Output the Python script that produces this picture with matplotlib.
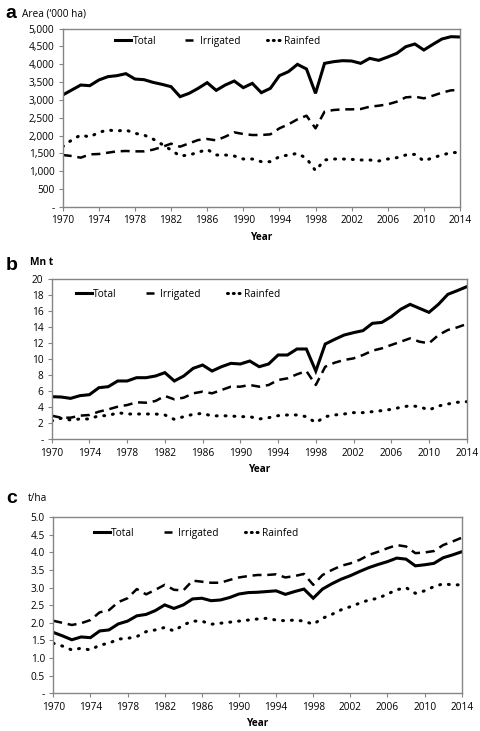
import matplotlib.pyplot as plt
from matplotlib.lines import Line2D
from matplotlib.ticker import FuncFormatter

years = list(range(1970, 2015))

# panel a - area ('000 ha)
area_total = [3137, 3277, 3417, 3399, 3557, 3651, 3679, 3735, 3585, 3567,
              3492, 3436, 3371, 3091, 3184, 3324, 3483, 3268, 3417, 3529,
              3343, 3464, 3203, 3324, 3679, 3791, 3996, 3866, 3184, 4024,
              4071, 4099, 4090, 4024, 4164, 4108, 4202, 4304, 4491, 4566,
              4398, 4556, 4706, 4771, 4762]
area_irrigated = [1457, 1429, 1382, 1475, 1485, 1522, 1559, 1569, 1559, 1559,
                  1606, 1681, 1774, 1690, 1783, 1877, 1905, 1867, 1970, 2092,
                  2045, 2017, 2017, 2036, 2204, 2316, 2456, 2558, 2204, 2670,
                  2717, 2736, 2736, 2745, 2810, 2838, 2876, 2950, 3072, 3091,
                  3044, 3119, 3203, 3268, 3277]
area_rainfed = [1690, 1877, 2017, 1961, 2092, 2157, 2129, 2157, 2064, 2017,
                1905, 1755, 1597, 1429, 1457, 1531, 1615, 1457, 1457, 1429,
                1345, 1345, 1270, 1270, 1410, 1457, 1503, 1363, 1018, 1317,
                1345, 1345, 1335, 1317, 1317, 1289, 1345, 1382, 1457, 1475,
                1289, 1382, 1457, 1522, 1531]

# panel b - production (Mn t)
prod_total = [5.32, 5.28, 5.11, 5.45, 5.57, 6.44, 6.57, 7.28, 7.28, 7.69,
              7.69, 7.90, 8.32, 7.28, 7.90, 8.86, 9.27, 8.52, 9.06, 9.48,
              9.40, 9.77, 9.06, 9.40, 10.52, 10.52, 11.27, 11.27, 8.52, 11.89,
              12.47, 13.01, 13.31, 13.56, 14.47, 14.59, 15.30, 16.22, 16.84, 16.34,
              15.84, 16.84, 18.09, 18.55, 19.04]
prod_irrigated = [2.95, 2.70, 2.70, 2.95, 3.04, 3.45, 3.74, 4.07, 4.28, 4.62,
                  4.57, 4.78, 5.41, 4.99, 5.20, 5.74, 5.95, 5.74, 6.15, 6.57,
                  6.57, 6.78, 6.57, 6.78, 7.40, 7.61, 8.11, 8.52, 6.78, 9.06,
                  9.56, 9.90, 10.10, 10.52, 11.06, 11.35, 11.77, 12.18, 12.60, 12.18,
                  11.98, 13.01, 13.64, 13.97, 14.39]
prod_rainfed = [2.29, 2.62, 2.41, 2.54, 2.54, 2.95, 2.95, 3.33, 3.16, 3.16,
                3.16, 3.16, 3.04, 2.49, 2.83, 3.12, 3.24, 2.91, 2.95, 2.91,
                2.83, 2.83, 2.54, 2.70, 2.95, 3.04, 3.04, 2.83, 2.08, 2.83,
                3.04, 3.16, 3.33, 3.33, 3.45, 3.58, 3.74, 3.99, 4.20, 4.07,
                3.66, 4.16, 4.41, 4.62, 4.70]

# panel c - yield (t/ha)
yield_total = [1.73, 1.63, 1.52, 1.60, 1.58, 1.77, 1.80, 1.97, 2.05, 2.20,
               2.24, 2.35, 2.51, 2.41, 2.51, 2.68, 2.70, 2.63, 2.65, 2.72,
               2.82, 2.86, 2.87, 2.89, 2.91, 2.81, 2.89, 2.96, 2.70, 2.96,
               3.11, 3.24, 3.34, 3.46, 3.57, 3.66, 3.74, 3.84, 3.81, 3.62,
               3.65, 3.69, 3.85, 3.93, 4.02]
yield_irrigated = [2.06, 2.00, 1.94, 1.99, 2.08, 2.30, 2.36, 2.59, 2.70, 2.96,
                   2.81, 2.94, 3.08, 2.94, 2.92, 3.20, 3.17, 3.14, 3.14, 3.22,
                   3.29, 3.33, 3.36, 3.36, 3.38, 3.29, 3.33, 3.39, 3.08, 3.36,
                   3.50, 3.62, 3.69, 3.79, 3.93, 4.02, 4.12, 4.21, 4.17, 3.98,
                   4.00, 4.04, 4.21, 4.31, 4.42]
yield_rainfed = [1.42, 1.34, 1.23, 1.28, 1.23, 1.37, 1.42, 1.54, 1.56, 1.61,
                 1.75, 1.80, 1.87, 1.77, 1.94, 2.05, 2.05, 1.96, 1.99, 2.02,
                 2.05, 2.08, 2.11, 2.13, 2.08, 2.06, 2.08, 2.05, 1.96, 2.13,
                 2.24, 2.37, 2.46, 2.56, 2.65, 2.70, 2.82, 2.94, 3.00, 2.84,
                 2.91, 3.03, 3.11, 3.08, 3.08]

series_names = ['Total', 'Irrigated', 'Rainfed']

plt.rcParams['font.family'] = ['Open Sans', 'DejaVu Sans']
GRAY = '#858585'


def draw_panel(ax, total, irrigated, rainfed, ymax, ystep, fmt, legend_x, legend_y):
    ax.plot(years, total, color='black', lw=2.2, solid_joinstyle='miter')
    ax.plot(years, irrigated, color='black', lw=1.8, dashes=(3.6, 2.3))
    # dotted line: tiny dashes with round caps give round dots
    ax.plot(years, rainfed, color='black', lw=2.2, dashes=(0.3, 2.6), dash_capstyle='round')

    ax.set_xlim(1970, 2014)
    ax.set_ylim(0, ymax)
    ax.set_xticks(range(1970, 2015, 4))
    yticks = [i * ystep for i in range(int(round(ymax / ystep)) + 1)]
    ax.set_yticks(yticks)
    ax.yaxis.set_major_formatter(FuncFormatter(lambda v, p: '-' if v == 0 else fmt(v)))
    ax.tick_params(axis='both', labelsize=7.3, color=GRAY, length=3, width=0.8,
                   direction='out', pad=3)
    for s in ax.spines.values():
        s.set_color(GRAY)
        s.set_linewidth(1.0)
    ax.set_xlabel('Year', fontsize=7.3, fontweight='bold', labelpad=4)

    # legend handles drawn like the Excel legend: one short dash, three dots
    handles = [
        Line2D([], [], color='black', lw=2.2),
        Line2D([], [], color='black', lw=1.8, ls=(0, (0.001, 1.2, 3.2, 30))),
        Line2D([], [], color='black', lw=2.2, ls=(0, (0.3, 1.6)), dash_capstyle='round'),
    ]
    ax.legend(handles, series_names, ncol=3, loc='center', bbox_to_anchor=(legend_x, legend_y),
              frameon=False, fontsize=7.3, handlelength=1.6, handletextpad=0.1,
              columnspacing=2.6)


fig = plt.figure(figsize=(4.8, 7.31), dpi=100)

ax_a = fig.add_axes([0.1306, 0.7168, 0.8277, 0.2442])
draw_panel(ax_a, area_total, area_irrigated, area_rainfed, 5000, 500,
           lambda v: f'{int(v):,}', 0.39, 0.93)
ax_b = fig.add_axes([0.1077, 0.3990, 0.8646, 0.2193])
draw_panel(ax_b, prod_total, prod_irrigated, prod_rainfed, 20, 2,
           lambda v: f'{int(v)}', 0.305, 0.905)
ax_c = fig.add_axes([0.1110, 0.0516, 0.8510, 0.2408])
draw_panel(ax_c, yield_total, yield_irrigated, yield_rainfed, 5.0, 0.5,
           lambda v: f'{v:.1f}', 0.35, 0.909)

# panel letters and units
fig.text(0.012, 0.981, 'a', fontsize=14, fontweight='bold', family='Liberation Sans', va='center')
fig.text(0.045, 0.981, "Area (\u2018000 ha)", fontsize=7.3, va='center')
fig.text(0.012, 0.637, 'b', fontsize=14, fontweight='bold', family='Liberation Sans', va='center')
fig.text(0.062, 0.641, 'Mn t', fontsize=7.3, fontweight='bold', va='center')
fig.text(0.012, 0.318, 'c', fontsize=14, fontweight='bold', family='Liberation Sans', va='center')
fig.text(0.058, 0.318, 't/ha', fontsize=7.3, va='center')

plt.savefig('out.png', dpi=100)
